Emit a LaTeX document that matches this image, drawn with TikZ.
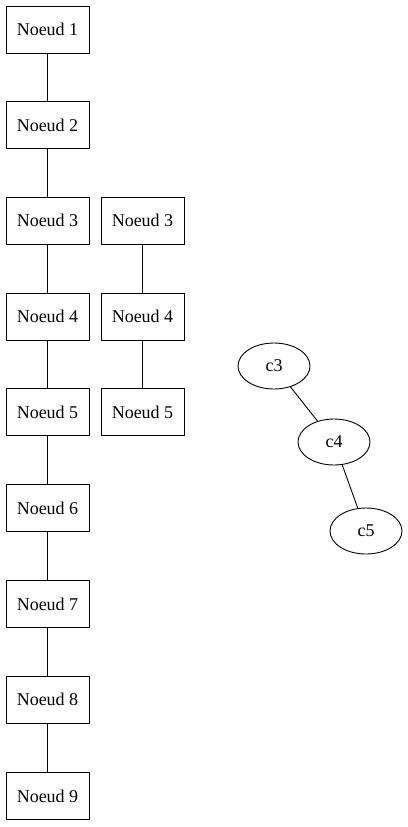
\documentclass[tikz,border=0pt]{standalone}
\usepackage{fontspec}
\setmainfont{Liberation Serif}
\usetikzlibrary{shapes.geometric}
\begin{document}
\begin{tikzpicture}[x=1pt,y=-1pt,
  box/.style={draw,line width=0.9pt,minimum width=83pt,minimum height=47pt,inner sep=0pt,font=\fontsize{18}{20}\selectfont},
  oval/.style={draw,ellipse,line width=0.9pt,minimum width=72pt,minimum height=46pt,inner sep=0pt,font=\fontsize{18}{20}\selectfont},
  link/.style={line width=0.9pt}]
\useasboundingbox (0,0) rectangle (407,827);
\foreach \i/\y in {1/29.5,2/125,3/220.5,4/316.5,5/412,6/508,7/604,8/699.5,9/796}{
  \node[box] (a\i) at (47.5,\y) {Noeud \i};
}
\foreach \i/\y in {3/220.5,4/316.5,5/412}{
  \node[box] (b\i) at (142.5,\y) {Noeud \i};
}
\foreach \i [evaluate=\i as \j using int(\i+1)] in {1,...,8}{
  \draw[link] (a\i) -- (a\j);
}
\draw[link] (b3) -- (b4);
\draw[link] (b4) -- (b5);
\node[oval] (c3) at (274,366) {c3};
\node[oval] (c4) at (334,442) {c4};
\node[oval] (c5) at (366,531) {c5};
\draw[link] (c3) -- (c4);
\draw[link] (c4) -- (c5);
\end{tikzpicture}
\end{document}
